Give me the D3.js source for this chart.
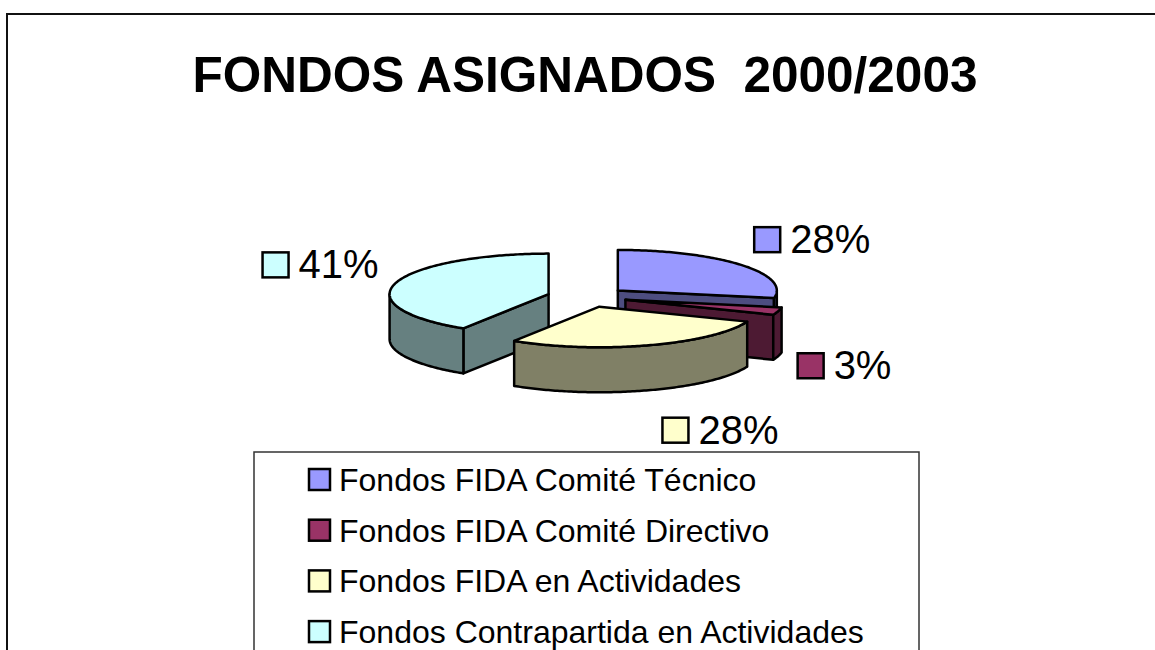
<!DOCTYPE html>
<html>
<head>
<meta charset="utf-8">
<script src="https://cdn.jsdelivr.net/npm/d3@7"></script>
<style>
  html, body { margin: 0; padding: 0; background: #fff; }
  svg { display: block; }
  text { font-family: Arial, "Liberation Sans", sans-serif; }
</style>
</head>
<body>
<svg id="chart" width="1155" height="650"></svg>
<script>
const title = "FONDOS ASIGNADOS  2000/2003";
const categories = [
  "Fondos FIDA Comité Técnico",
  "Fondos FIDA Comité Directivo",
  "Fondos FIDA en Actividades",
  "Fondos Contrapartida en Actividades"
];
const values = [28, 3, 28, 41];
const topColors = ["#9999FF", "#993366", "#FFFFCC", "#CCFFFF"];
const sideColors = ["#4D4D80", "#4D1A33", "#808066", "#668080"];

const W = 1155, H = 650;
const svg = d3.select("#chart");

// frame
svg.append("rect").attr("x", 7).attr("y", 14).attr("width", 1170).attr("height", 700)
  .attr("fill", "#fff").attr("stroke", "#111").attr("stroke-width", 2);

// title
svg.append("text").attr("x", 585).attr("y", 92).attr("text-anchor", "middle")
  .attr("font-size", 49.5).attr("font-weight", "bold").attr("fill", "#000")
  .style("white-space", "pre").attr("xml:space", "preserve").text(title);

// 3D pie geometry
const cx = 587, cy = 297, rx = 159, k = 0.255, depth = 45, explode = 40;
const total = d3.sum(values);
const pct = d3.format(".0%");
const pie = d3.pie().sort(null).value(d => d).startAngle(0).endAngle(2 * Math.PI);
const arcs = pie(values).map((a, i) => {
  const mid = (a.startAngle + a.endAngle) / 2;
  return {
    ...a, i, mid,
    ox: cx + explode * Math.sin(mid),
    oy: cy - k * explode * Math.cos(mid)
  };
});
const rScale = d3.scaleLinear().domain([0, 1]).range([0, rx]);
const pt = (s, ang, r, z) => [s.ox + r * Math.sin(ang), s.oy - k * r * Math.cos(ang) + z];
const line = d3.line();
const sample = (a0, a1) => {
  const n = Math.max(6, Math.ceil((a1 - a0) / 0.015));
  return d3.range(n + 1).map(j => a0 + (a1 - a0) * j / n);
};

const g = svg.append("g").attr("stroke", "#000").attr("stroke-width", 2.5).attr("stroke-linejoin", "round");
const R = rScale(1);
arcs.slice().sort((a, b) => a.oy - b.oy).forEach(s => {
  const a0 = s.startAngle, a1 = s.endAngle;
  const side = sideColors[s.i], top = topColors[s.i];
  if (Math.sin(a0) < -1e-6) {
    const p = [pt(s, a0, 0, 0), pt(s, a0, R, 0), pt(s, a0, R, depth), pt(s, a0, 0, depth)];
    g.append("path").attr("d", line(p) + "Z").attr("fill", side);
  }
  if (Math.sin(a1) > 1e-6) {
    const p = [pt(s, a1, 0, 0), pt(s, a1, R, 0), pt(s, a1, R, depth), pt(s, a1, 0, depth)];
    g.append("path").attr("d", line(p) + "Z").attr("fill", side);
  }
  const w0 = Math.max(a0, Math.PI / 2), w1 = Math.min(a1, 3 * Math.PI / 2);
  if (w1 > w0) {
    const angs = sample(w0, w1);
    const p = angs.map(t => pt(s, t, R, 0)).concat(angs.slice().reverse().map(t => pt(s, t, R, depth)));
    g.append("path").attr("d", line(p) + "Z").attr("fill", side);
  }
  const p = [pt(s, 0, 0, 0)].concat(sample(a0, a1).map(t => pt(s, t, R, 0)));
  g.append("path").attr("d", line(p) + "Z").attr("fill", top);
});

// data labels
const lg = svg.append("g");
arcs.forEach(s => {
  const sn = Math.sin(s.mid), cs = Math.cos(s.mid);
  const front = cs < 0;
  const pad = 18 + (front ? 30 * cs * cs : 0);
  const P = pt(s, s.mid, R + pad, front ? depth : 0);
  const txt = pct(s.value / total);
  const t = lg.append("text").attr("font-size", 40).attr("fill", "#000").text(txt);
  const tw = t.node().getComputedTextLength();
  const boxW = 26 + 10 + tw;
  const left = sn >= 0 ? P[0] : P[0] - boxW;
  const bottom = front ? P[1] + 12 + 31 * (-cs) : P[1] - 15 * cs;
  t.attr("x", left + 36).attr("y", bottom + 1);
  lg.append("rect").attr("x", left).attr("y", bottom - 25).attr("width", 26).attr("height", 25)
    .attr("fill", topColors[s.i]).attr("stroke", "#000").attr("stroke-width", 2.5);
});

// legend
const leg = svg.append("g");
leg.append("rect").attr("x", 254).attr("y", 452).attr("width", 665).attr("height", 300)
  .attr("fill", "#fff").attr("stroke", "#333").attr("stroke-width", 1.5);
const rowY = d3.scaleLinear().domain([0, 1]).range([491, 541.7]);
categories.forEach((c, i) => {
  const y = rowY(i);
  leg.append("rect").attr("x", 309).attr("y", y - 22).attr("width", 21).attr("height", 21)
    .attr("fill", topColors[i]).attr("stroke", "#000").attr("stroke-width", 2.5);
  leg.append("text").attr("x", 339).attr("y", y).attr("font-size", 32).attr("fill", "#000").text(c);
});
</script>
</body>
</html>
